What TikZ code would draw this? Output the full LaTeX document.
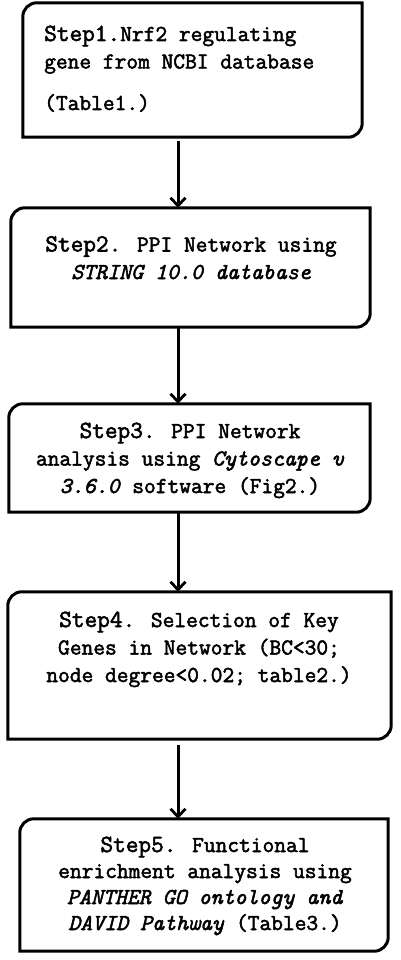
\documentclass[tikz,border=0pt]{standalone}
\usepackage{fontspec}
\newfontfamily\steptt{Latin Modern Mono}[FakeBold=2.2]
\usepackage{tikz}
\usetikzlibrary{arrows.meta, positioning, calc}
\tikzset{
  stepframe/.style={rectangle, draw=none, inner sep=0pt},
  steptext/.style={align=center, inner sep=0pt, font=\fontsize{22.8}{27.5}\selectfont\steptt},
  arrow/.style={-{Straight Barb[length=8pt, width=15pt, line width=2.8pt]}, line width=3pt, draw=black},
}
% frame with round corners at top left and bottom right only
\newcommand{\stepoutline}[1]{%
  \draw[line width=3pt]
    ([yshift=-14pt]#1.north west) arc[start angle=180, end angle=90, radius=14pt]
    -- (#1.north east) -- ([yshift=14pt]#1.south east)
    arc[start angle=0, end angle=-90, radius=14pt] -- (#1.south west) -- cycle;}
\newcommand{\stepword}[1]{{\fontsize{24.6}{27.5}\selectfont #1}}

\begin{document}
\begin{tikzpicture}[x=1pt, y=1pt]
  \useasboundingbox (0,0) rectangle (400,-960);
  \coordinate (spine) at (178,0);

  \node[stepframe, minimum width=339pt, minimum height=134pt] (box1) at (192.5,-70) {};
  \node[stepframe, minimum width=359pt, minimum height=119pt] (box2) at (190.5,-267.5) {};
  \node[stepframe, minimum width=361pt, minimum height=108pt] (box3) at (189.5,-458) {};
  \node[stepframe, minimum width=383pt, minimum height=147pt] (box4) at (199.5,-665.5) {};
  \node[stepframe, minimum width=368pt, minimum height=132pt] (box5) at (204,-885) {};
  \foreach \b in {box1,box2,box3,box4,box5} {\stepoutline{\b}}

  % base anchor sits on the last line
  \node[steptext, align=left, anchor=base west] (t1) at (44,-110)
    {\stepword{Step1.}Nrf2 regulating\\gene from NCBI database\\[14pt](Table1.)};
  \node[steptext, anchor=base] (t2) at (191,-279)
    {\stepword{Step2.} PPI Network using\\\itshape STRING 10.0 database};
  \node[steptext, anchor=base] (t3) at (190,-493)
    {\stepword{Step3.} PPI Network\\analysis using \textit{Cytoscape v}\\\textit{3.6.0} software (Fig2.)};
  \node[steptext, anchor=base] (t4) at (199,-682)
    {\stepword{Step4.} Selection of Key\\Genes in Network (BC<30;\\node degree<0.02; table2.)};
  \node[steptext, anchor=base, font=\fontsize{22.8}{26}\selectfont\steptt] (t5) at (205,-930)
    {\stepword{Step5.} Functional\\enrichment analysis using\\\textit{PANTHER GO ontology and}\\\textit{DAVID Pathway} (Table3.)};

  \draw[arrow, shorten <=4pt] (box1.south -| spine) -- (box2.north -| spine);
  \draw[arrow] (box2.south -| spine) -- (box3.north -| spine);
  \draw[arrow] (box3.south -| spine) -- (box4.north -| spine);
  \draw[arrow, shorten <=6pt] (box4.south -| spine) -- (box5.north -| spine);
\end{tikzpicture}
\end{document}
